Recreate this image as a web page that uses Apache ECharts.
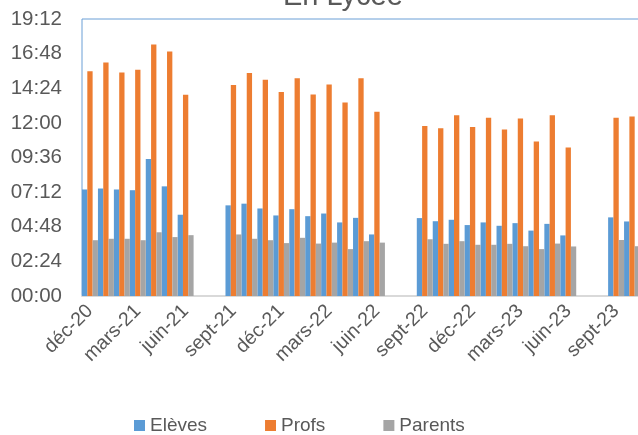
<!DOCTYPE html>
<html>
<head>
<meta charset="utf-8">
<script src="https://cdn.jsdelivr.net/npm/echarts@6/dist/echarts.min.js"></script>
<style>
html,body{margin:0;padding:0;background:#fff;overflow:hidden;width:638px;height:435px;position:relative;}
#c{position:absolute;left:0;top:-25px;width:644px;height:460px;}
</style>
</head>
<body>
<div id="c"></div>
<script>
// Categories (monthly)
const categories = ['déc-20','janv-21','févr-21','mars-21','avr-21','mai-21','juin-21','juil-21','août-21',
 'sept-21','oct-21','nov-21','déc-21','janv-22','févr-22','mars-22','avr-22','mai-22','juin-22','juil-22','août-22',
 'sept-22','oct-22','nov-22','déc-22','janv-23','févr-23','mars-23','avr-23','mai-23','juin-23','juil-23','août-23',
 'sept-23','oct-23'];
// Values in minutes
const eleves = [443,447,443,440,570,456,338,null,null,
 377,384,364,335,361,332,343,306,325,256,null,null,
 324,311,317,295,306,292,303,272,300,252,null,null,
 327,310];
const profs = [935,971,930,941,1046,1017,837,null,null,
 878,927,899,848,906,838,880,805,906,766,null,null,
 707,698,752,703,741,692,738,643,752,618,null,null,
 741,746];
const parents = [232,238,238,232,265,245,253,null,null,
 256,238,232,220,242,218,222,195,228,222,null,null,
 236,217,228,213,213,217,207,195,218,206,null,null,
 233,207];
const yMax = 1152, yStep = 144;

function hhmm(v){
  const h = Math.floor(v/60), m = Math.round(v%60);
  return String(h).padStart(2,'0') + ':' + String(m).padStart(2,'0');
}
const txt = '#595959';
const font = 'Liberation Sans';
const chart = echarts.init(document.getElementById('c'));
chart.setOption({
  animation:false,
  title:{text:'En Lycée', left:278, top:2, textStyle:{fontFamily:font, fontSize:29, fontWeight:'normal', color:txt}},
  legend:{left:134, top:441, padding:0, itemWidth:11, itemHeight:11, itemGap:58, icon:'rect',
    textStyle:{fontFamily:font, fontSize:19, color:txt, padding:[0,0,0,0]},
    data:['Elèves','Profs','Parents']},
  grid:{left:82, top:44, right:4, bottom:139, containLabel:false, show:true, borderColor:'#6A9FD6', borderWidth:1, backgroundColor:'transparent'},
  xAxis:{type:'category', data:categories,
    axisLine:{lineStyle:{color:'#D9D9D9', width:2}},
    axisTick:{show:false},
    axisLabel:{interval:2, rotate:45, margin:12, fontFamily:font, fontSize:19.5, color:txt}},
  yAxis:{type:'value', min:0, max:yMax, interval:yStep,
    splitLine:{show:false}, axisLine:{show:false}, axisTick:{show:false},
    axisLabel:{formatter:hhmm, margin:20, fontFamily:font, fontSize:20.5, color:txt}},
  series:[
    {name:'Elèves', type:'bar', data:eleves, barGap:'0%', barCategoryGap:'0%', itemStyle:{color:'#5B9BD5'}},
    {name:'Profs', type:'bar', data:profs, barGap:'0%', barCategoryGap:'0%', itemStyle:{color:'#ED7D31'}},
    {name:'Parents', type:'bar', data:parents, barGap:'0%', barCategoryGap:'0%', itemStyle:{color:'#A5A5A5'}}
  ]
});
</script>
</body>
</html>
